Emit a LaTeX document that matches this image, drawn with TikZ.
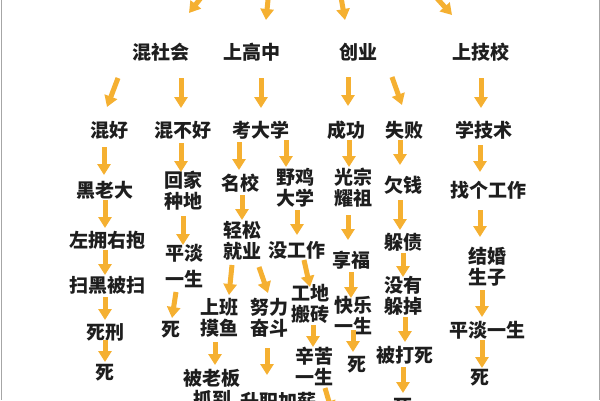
\documentclass[tikz,border=0pt]{standalone}
\usepackage{fontspec}
\usetikzlibrary{arrows.meta}
\newfontfamily\cjk{Noto Sans CJK SC}
\definecolor{jiantou}{HTML}{F5B031}
\definecolor{zi}{HTML}{1E1E1E}

\begin{document}
\begin{tikzpicture}[x=1pt,y=-1pt,
    lbl/.style={font=\cjk\bfseries\fontsize{19}{21}\selectfont, align=center, inner sep=0pt, text=zi},
    arr/.style={draw=jiantou, line width=5pt, -{Triangle[width=13pt,length=11pt]}}]
    \useasboundingbox (0,0) rectangle (600,400);
    \clip (0,0) rectangle (600,400);
    \fill[white] (0,0) rectangle (600,400);
    \draw[gray!70, line width=0.8pt] (1,0) -- (1,400);
    \draw[gray!70, line width=0.8pt] (599,0) -- (599,400);
    % incoming from above
    \coordinate (in1) at (215,-20);
    \coordinate (in2) at (270,-20);
    \coordinate (in3) at (338,-20);
    \coordinate (in4) at (425,-15);
    \coordinate (out1) at (332,412);
    % first row
    \node[lbl] (hsh) at (161,52) {混社会};
    \node[lbl] (sgz) at (252,52) {上高中};
    \node[lbl] (cy) at (358,52) {创业};
    \node[lbl] (sjx) at (481,52) {上技校};
    % second row
    \node[lbl] (hh) at (109,130) {混好};
    \node[lbl] (hbh) at (183,130) {混不好};
    \node[lbl] (kdx) at (261,130) {考大学};
    \node[lbl] (cg) at (346,130) {成功};
    \node[lbl] (sb) at (404,130) {失败};
    \node[lbl] (sjs) at (484,130) {学技术};
    % third row
    \node[lbl] (hld) at (105,190) {黑老大};
    \node[lbl] (hjzd) at (183,191) {回家\\种地};
    \node[lbl] (mx) at (240,183) {名校};
    \node[lbl] (yjdx) at (295,188) {野鸡\\大学};
    \node[lbl] (gzyz) at (353,188) {光宗\\耀祖};
    \node[lbl] (qq) at (403,185) {欠钱};
    \node[lbl] (zggz) at (488,190) {找个工作};
    % rest
    \node[lbl] (zyyb) at (107,240) {左拥右抱};
    \node[lbl] (shbs) at (107,285) {扫黑被扫};
    \node[lbl] (sx) at (105,332) {死刑};
    \node[lbl] (s1) at (105,373) {死};
    \node[lbl] (pdys1) at (184,266) {平淡\\[5pt]一生};
    \node[lbl] (s2) at (171,330) {死};
    \node[lbl] (qsjy) at (242,241) {轻松\\就业};
    \node[lbl] (mgz) at (297,250) {没工作};
    \node[lbl] (xf) at (351,260) {享福};
    \node[lbl] (zz) at (403,242) {躲债};
    \node[lbl] (jhsz) at (487,267) {结婚\\生子};
    \node[lbl] (sbmy) at (219,318) {上班\\摸鱼};
    \node[lbl] (nlfd) at (269,318) {努力\\奋斗};
    \node[lbl] (gdbz) at (310,304) {工地\\搬砖};
    \node[lbl] (klys) at (353,316) {快乐\\一生};
    \node[lbl] (myzd) at (403,296) {没有\\躲掉};
    \node[lbl] (pdys2) at (487,330) {平淡一生};
    \node[lbl] (s3) at (357,365) {死};
    \node[lbl] (xkys) at (314,366) {辛苦\\一生};
    \node[lbl] (bds) at (405,355) {被打死};
    \node[lbl] (s4) at (480,378) {死};
    \node[lbl] (blbzd) at (212,389) {被老板\\抓到};
    \node[lbl] (szjx) at (278,401) {升职加薪};
    \node[lbl] (s5) at (403,407) {死};
    % arrows
    \draw[arr] (in1) -- ([shift={(28,-39)}]hsh.center);
    \draw[arr] (in2) -- ([shift={(14,-32)}]sgz.center);
    \draw[arr] (in3) -- ([shift={(-13,-32)}]cy.center);
    \draw[arr] (in4) -- ([shift={(-29,-37)}]sjx.center);
    \draw[arr] ([shift={(-43,26)}]hsh.center) -- ([shift={(-2,-23)}]hh.center);
    \draw[arr] ([shift={(20,26)}]hsh.center) -- ([shift={(-2,-22)}]hbh.center);
    \draw[arr] ([shift={(9,26)}]sgz.center) -- ([shift={(0,-22)}]kdx.center);
    \draw[arr] ([shift={(-10,25)}]cy.center) -- ([shift={(2,-24)}]cg.center);
    \draw[arr] ([shift={(34,25)}]cy.center) -- ([shift={(-2,-25)}]sb.center);
    \draw[arr] ([shift={(0,26)}]sjx.center) -- ([shift={(-3,-22)}]sjs.center);
    \draw[arr] ([shift={(-5,17)}]hh.center) -- ([shift={(-1,-15)}]hld.center);
    \draw[arr] ([shift={(-2,13)}]hbh.center) -- ([shift={(-2,-19)}]hjzd.center);
    \draw[arr] ([shift={(-22,12)}]kdx.center) -- ([shift={(-1,-13)}]mx.center);
    \draw[arr] ([shift={(25,10)}]kdx.center) -- ([shift={(-9,-21)}]yjdx.center);
    \draw[arr] ([shift={(3,10)}]cg.center) -- ([shift={(-4,-21)}]gzyz.center);
    \draw[arr] ([shift={(-4,10)}]sb.center) -- ([shift={(-3,-20)}]qq.center);
    \draw[arr] ([shift={(-4,15)}]sjs.center) -- ([shift={(-8,-18)}]zggz.center);
    \draw[arr] ([shift={(0,10)}]hld.center) -- ([shift={(-2,-12)}]zyyb.center);
    \draw[arr] ([shift={(-2,10)}]zyyb.center) -- ([shift={(-2,-10)}]shbs.center);
    \draw[arr] ([shift={(-2,12)}]shbs.center) -- ([shift={(0,-12)}]sx.center);
    \draw[arr] ([shift={(0,8)}]sx.center) -- ([shift={(0,-11)}]s1.center);
    \draw[arr] ([shift={(0,25)}]hjzd.center) -- ([shift={(-1,-21)}]pdys1.center);
    \draw[arr] ([shift={(-8,26)}]pdys1.center) -- ([shift={(1,-12)}]s2.center);
    \draw[arr] ([shift={(2,12)}]mx.center) -- ([shift={(0,-21)}]qsjy.center);
    \draw[arr] ([shift={(2,22)}]yjdx.center) -- ([shift={(0,-15)}]mgz.center);
    \draw[arr] ([shift={(-5,27)}]gzyz.center) -- ([shift={(-3,-20)}]xf.center);
    \draw[arr] ([shift={(-3,15)}]qq.center) -- ([shift={(-3,-12)}]zz.center);
    \draw[arr] ([shift={(-8,20)}]zggz.center) -- ([shift={(-7,-30)}]jhsz.center);
    \draw[arr] ([shift={(-10,24)}]qsjy.center) -- ([shift={(10,-23)}]sbmy.center);
    \draw[arr] ([shift={(17,26)}]qsjy.center) -- ([shift={(-1,-25)}]nlfd.center);
    \draw[arr] ([shift={(7,10)}]mgz.center) -- ([shift={(0,-17)}]gdbz.center);
    \draw[arr] ([shift={(0,12)}]xf.center) -- ([shift={(-2,-18)}]klys.center);
    \draw[arr] ([shift={(0,11)}]zz.center) -- ([shift={(0,-19)}]myzd.center);
    \draw[arr] ([shift={(-5,23)}]jhsz.center) -- ([shift={(-5,-13)}]pdys2.center);
    \draw[arr] ([shift={(-4,24)}]sbmy.center) -- ([shift={(3,-24)}]blbzd.center);
    \draw[arr] ([shift={(-2,30)}]nlfd.center) -- ([shift={(-11,-26)}]szjx.center);
    \draw[arr] ([shift={(3,21)}]gdbz.center) -- ([shift={(-1,-19)}]xkys.center);
    \draw[arr] ([shift={(0,14)}]klys.center) -- ([shift={(-4,-13)}]s3.center);
    \draw[arr] ([shift={(2,21)}]myzd.center) -- ([shift={(0,-13)}]bds.center);
    \draw[arr] ([shift={(-2,12)}]bds.center) -- ([shift={(0,-14)}]s5.center);
    \draw[arr] ([shift={(-5,10)}]pdys2.center) -- ([shift={(2,-10)}]s4.center);
    \draw[arr] ([shift={(11,22)}]xkys.center) -- (out1);
\end{tikzpicture}
\end{document}
